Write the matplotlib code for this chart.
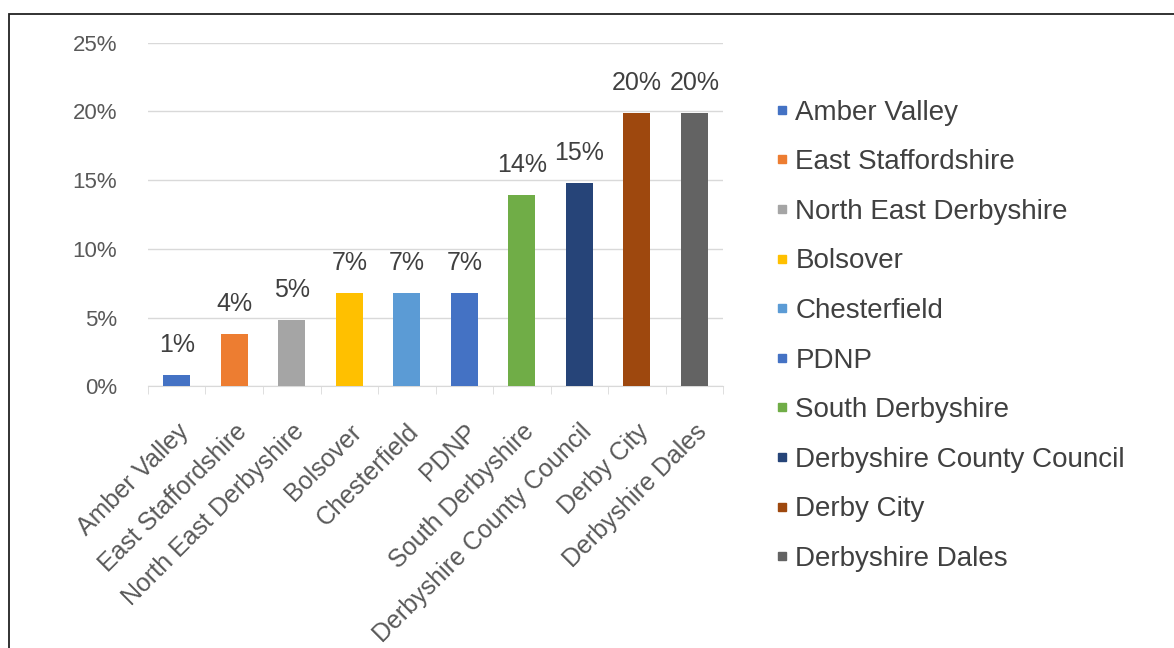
import matplotlib.pyplot as plt
from matplotlib.lines import Line2D
from matplotlib.patches import Rectangle
from matplotlib.ticker import PercentFormatter
import numpy as np

plt.rcParams['font.family'] = ['Liberation Sans', 'DejaVu Sans']

areas = ['Amber Valley', 'East Staffordshire', 'North East Derbyshire', 'Bolsover',
         'Chesterfield', 'PDNP', 'South Derbyshire', 'Derbyshire County Council',
         'Derby City', 'Derbyshire Dales']
shares = [0.008, 0.038, 0.048, 0.068, 0.068, 0.068, 0.139, 0.148, 0.199, 0.199]
colours = ['#4472C4', '#ED7D31', '#A5A5A5', '#FFC000', '#5B9BD5',
           '#4472C4', '#70AD47', '#264478', '#9E480E', '#636363']
y_ticks = [0, 0.05, 0.10, 0.15, 0.20, 0.25]

text_grey = '#595959'

fig = plt.figure(figsize=(11.74, 6.48), dpi=100)
ax = fig.add_axes([0.126, 0.404, 0.490, 0.530])

x = np.arange(len(areas))
bars = ax.bar(x, shares, width=0.47, color=colours, zorder=3)
ax.bar_label(bars, labels=[f'{v:.0%}' for v in shares], padding=13,
             fontsize=18, color='#404040')

ax.set_ylim(0, 0.25)
ax.set_yticks(y_ticks)
ax.yaxis.set_major_formatter(PercentFormatter(1.0, decimals=0))
ax.set_xlim(-0.5, len(areas) - 0.5)
ax.grid(axis='y', color='#D9D9D9', linewidth=1, zorder=0)

for s in ['top', 'right', 'left']:
    ax.spines[s].set_visible(False)
ax.spines['bottom'].set_color('#D9D9D9')

ax.tick_params(axis='y', length=0, labelsize=16, labelcolor=text_grey, pad=22)
ax.set_xticks(x)
ax.set_xticklabels(areas, rotation=45, ha='right', rotation_mode='anchor',
                   fontsize=18, color=text_grey)
ax.tick_params(axis='x', length=0, pad=24)
ax.set_xticks(np.arange(len(areas) + 1) - 0.5, minor=True)
ax.tick_params(axis='x', which='minor', length=6, color='#D9D9D9')

handles = [Line2D([], [], marker='s', linestyle='none', markersize=6,
                  markerfacecolor=c, markeredgecolor=c) for c in colours]
fig.legend(handles, areas, loc='upper left', bbox_to_anchor=(0.635, 0.885),
           frameon=False, fontsize=20, labelcolor='#404040',
           handletextpad=0.1, handlelength=0.8, labelspacing=0.85)

fig.patches.append(Rectangle((9 / 1174, -0.1), 1.2, 1.1 - 14 / 648,
                             transform=fig.transFigure, fill=False,
                             edgecolor='#222222', linewidth=1.3))

fig.savefig('out.png', dpi=100)
